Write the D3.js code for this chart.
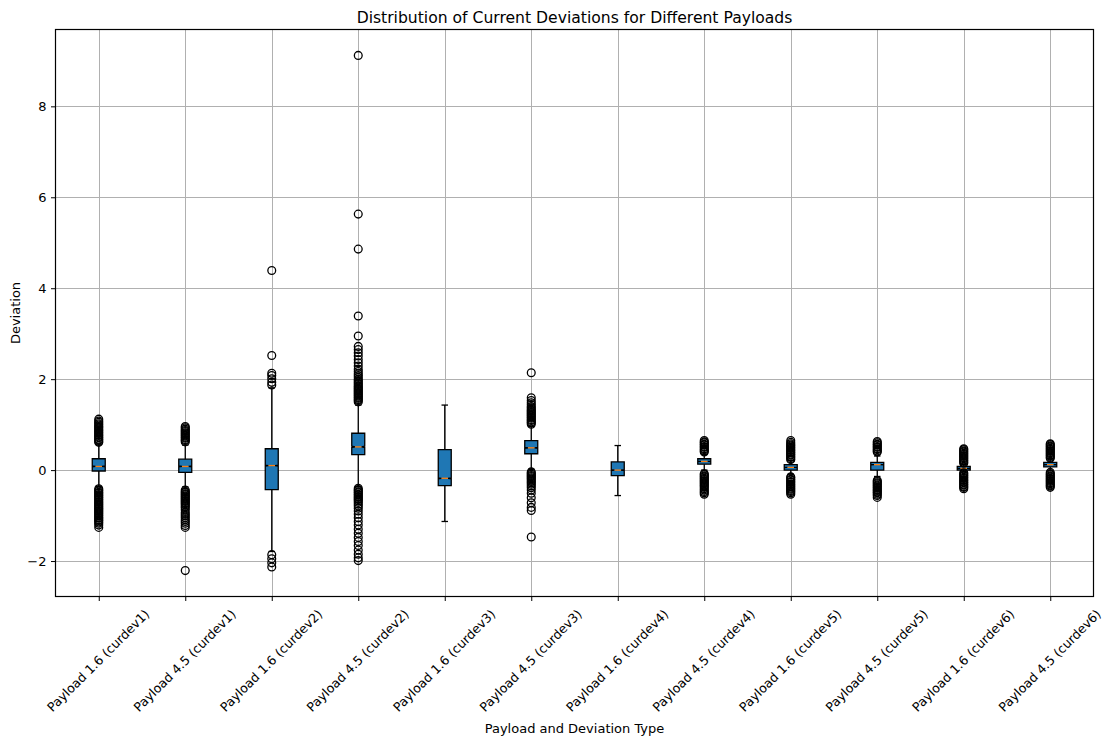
<!DOCTYPE html>
<html>
<head>
<meta charset="utf-8">
<script src="https://cdn.jsdelivr.net/npm/d3@7"></script>
<style>
  body { margin: 0; background: #fff; }
  svg { display: block; }
  text { font-family: "DejaVu Sans", sans-serif; fill: #000; }
</style>
</head>
<body>
<svg id="chart" width="1104" height="742"></svg>
<script>
// Box statistics per payload / deviation channel
const categories = [
  "Payload 1.6 (curdev1)", "Payload 4.5 (curdev1)",
  "Payload 1.6 (curdev2)", "Payload 4.5 (curdev2)",
  "Payload 1.6 (curdev3)", "Payload 4.5 (curdev3)",
  "Payload 1.6 (curdev4)", "Payload 4.5 (curdev4)",
  "Payload 1.6 (curdev5)", "Payload 4.5 (curdev5)",
  "Payload 1.6 (curdev6)", "Payload 4.5 (curdev6)"
];
const q1Values      = [-0.02, -0.05, -0.43, 0.34, -0.34, 0.36, -0.12, 0.13, 0.00, 0.00, 0.00, 0.07];
const medianValues  = [ 0.08,  0.08,  0.10, 0.51, -0.18, 0.49,  0.00, 0.19, 0.06, 0.12, 0.04, 0.12];
const q3Values      = [ 0.25,  0.24,  0.47, 0.81,  0.45, 0.65,  0.18, 0.25, 0.12, 0.17, 0.08, 0.17];
const whiskerLow    = [-0.36, -0.37, -1.79, -0.36, -1.13, 0.02, -0.56, 0.00, -0.09, -0.14, -0.04, 0.00];
const whiskerHigh   = [ 0.57,  0.55,  1.81, 1.43,  1.43, 0.96,  0.54, 0.35, 0.21, 0.31, 0.13, 0.25];
const notchHalf     = [ 0.01,  0.01,  0.01, 0.015, 0.01, 0.01,  0.01, 0.005, 0.005, 0.005, 0.005, 0.005];

const fliers1 = [0.61, 0.63, 0.66, 0.68, 0.71, 0.73, 0.76, 0.78, 0.81, 0.83, 0.86, 0.88, 0.91, 0.94, 0.96, 0.99, 1.02, 1.05, 1.08, 1.12,
  -0.41, -0.44, -0.46, -0.49, -0.51, -0.54, -0.56, -0.59, -0.61, -0.64, -0.66, -0.69, -0.71, -0.74, -0.76, -0.79, -0.81,
  -0.84, -0.86, -0.89, -0.91, -0.94, -0.96, -0.99, -1.01, -1.04, -1.06, -1.09, -1.11, -1.14, -1.17, -1.21, -1.26];
const fliers2 = [0.62, 0.65, 0.67, 0.70, 0.72, 0.75, 0.77, 0.80, 0.82, 0.85, 0.87, 0.90, 0.93, 0.96,
  -0.44, -0.47, -0.49, -0.52, -0.54, -0.57, -0.59, -0.62, -0.64, -0.67, -0.69, -0.72, -0.74, -0.77, -0.80, -0.83,
  -0.88, -0.93, -0.97, -1.01, -1.05, -1.09, -1.13, -1.17, -1.22, -1.26, -2.21];
const fliers3 = [1.87, 1.93, 2.01, 2.08, 2.13, 2.52, 4.39, -1.86, -1.95, -2.04, -2.13];
const fliers4 = [1.50, 1.53, 1.55, 1.58, 1.60, 1.63, 1.65, 1.68, 1.70, 1.73, 1.75, 1.78, 1.80, 1.83, 1.85, 1.88, 1.91, 1.94,
  1.97, 2.00, 2.04, 2.08, 2.12, 2.17, 2.22, 2.29, 2.36, 2.43, 2.51, 2.58, 2.65, 2.72, 2.95, 3.39, 4.86, 5.63, 9.12,
  -0.40, -0.43, -0.45, -0.48, -0.50, -0.53, -0.55, -0.58, -0.60, -0.63, -0.65, -0.68, -0.71, -0.75, -0.79, -0.84,
  -0.90, -0.97, -1.05, -1.13, -1.21, -1.30, -1.39, -1.48, -1.57, -1.66, -1.76, -1.85, -1.93, -1.99];
const fliers5 = [];
const fliers6 = [1.01, 1.04, 1.06, 1.09, 1.11, 1.14, 1.16, 1.19, 1.21, 1.24, 1.26, 1.29, 1.31, 1.34, 1.37, 1.40, 1.44, 1.48, 1.53, 1.59, 2.14,
  -0.04, -0.07, -0.09, -0.12, -0.14, -0.17, -0.19, -0.22, -0.25, -0.28, -0.31, -0.35, -0.39, -0.44,
  -0.51, -0.61, -0.72, -0.82, -0.89, -1.47];
const fliers7 = [];
const fliers8 = [0.40, 0.42, 0.45, 0.47, 0.50, 0.52, 0.55, 0.57, 0.60, 0.62, 0.65,
  -0.08, -0.10, -0.13, -0.15, -0.18, -0.20, -0.23, -0.25, -0.28, -0.30, -0.33, -0.35, -0.38, -0.41, -0.44, -0.47, -0.50, -0.53];
const fliers9 = [0.23, 0.25, 0.28, 0.30, 0.33, 0.35, 0.38, 0.40, 0.43, 0.45, 0.48, 0.50, 0.53, 0.55, 0.58, 0.61, 0.65,
  -0.15, -0.17, -0.20, -0.22, -0.25, -0.27, -0.30, -0.32, -0.35, -0.37, -0.40, -0.42, -0.45, -0.47, -0.50, -0.53];
const fliers10 = [0.40, 0.42, 0.45, 0.47, 0.50, 0.52, 0.55, 0.57, 0.60, 0.63,
  -0.23, -0.25, -0.28, -0.30, -0.33, -0.35, -0.38, -0.40, -0.43, -0.45, -0.48, -0.50, -0.53, -0.56, -0.60];
const fliers11 = [0.15, 0.17, 0.20, 0.22, 0.25, 0.27, 0.30, 0.32, 0.35, 0.37, 0.40, 0.42, 0.45, 0.47,
  -0.06, -0.08, -0.11, -0.13, -0.16, -0.18, -0.21, -0.23, -0.26, -0.28, -0.31, -0.33, -0.36, -0.38, -0.41];
const fliers12 = [0.26, 0.28, 0.31, 0.33, 0.36, 0.38, 0.41, 0.43, 0.46, 0.48, 0.51, 0.53, 0.56, 0.58,
  -0.05, -0.08, -0.10, -0.13, -0.15, -0.18, -0.20, -0.23, -0.25, -0.28, -0.30, -0.33, -0.35, -0.38];
const flierSets = [fliers1, fliers2, fliers3, fliers4, fliers5, fliers6, fliers7, fliers8, fliers9, fliers10, fliers11, fliers12];

const yTickValues = [-2, 0, 2, 4, 6, 8];

const titleText = "Distribution of Current Deviations for Different Payloads";
const xLabelText = "Payload and Deviation Type";
const yLabelText = "Deviation";

// Layout
const plot = { left: 55.5, right: 1093.5, top: 29.5, bottom: 596.5 };
const boxWidth = 0.15;   // in position units
const fillColor = "#1f77b4";
const medianColor = "#ff7f0e";
const lineW = 1.3;

const svg = d3.select("#chart");

const positions = categories.map((_, i) => i + 1);
const x = d3.scaleLinear().domain([0.5, 12.5]).range([plot.left, plot.right]);
const y = d3.scaleLinear().domain([-2.78, 9.69]).range([plot.bottom, plot.top]);

// Grid
const grid = svg.append("g").attr("stroke", "#b0b0b0").attr("stroke-width", 1);
grid.selectAll("line.gx").data(positions).join("line")
  .attr("x1", d => Math.round(x(d)) + 0.5).attr("x2", d => Math.round(x(d)) + 0.5)
  .attr("y1", plot.top).attr("y2", plot.bottom);
grid.selectAll("line.gy").data(yTickValues).join("line")
  .attr("y1", d => Math.round(y(d)) + 0.5).attr("y2", d => Math.round(y(d)) + 0.5)
  .attr("x1", plot.left).attr("x2", plot.right);

// Boxes
const stats = positions.map((p, i) => ({
  pos: p, q1: q1Values[i], med: medianValues[i], q3: q3Values[i],
  lo: whiskerLow[i], hi: whiskerHigh[i], notch: notchHalf[i], fliers: flierSets[i]
}));

const boxes = svg.append("g");
stats.forEach(s => {
  const left = x(s.pos - boxWidth / 2), right = x(s.pos + boxWidth / 2);
  const capL = x(s.pos - boxWidth / 4), capR = x(s.pos + boxWidth / 4);
  const nLo = y(s.med - s.notch), nHi = y(s.med + s.notch);
  const pts = [
    [left, y(s.q1)], [right, y(s.q1)], [right, nLo], [capR, y(s.med)], [right, nHi],
    [right, y(s.q3)], [left, y(s.q3)], [left, nHi], [capL, y(s.med)], [left, nLo]
  ];
  boxes.append("path")
    .attr("d", d3.line()(pts) + "Z")
    .attr("fill", fillColor).attr("stroke", "#000").attr("stroke-width", lineW)
    .attr("stroke-linejoin", "miter");

  const cx = x(s.pos);
  const capHalf = (x(s.pos + boxWidth / 4) - x(s.pos));
  // whiskers
  boxes.append("line").attr("x1", cx).attr("x2", cx).attr("y1", y(s.q1)).attr("y2", y(s.lo))
    .attr("stroke", "#000").attr("stroke-width", lineW);
  boxes.append("line").attr("x1", cx).attr("x2", cx).attr("y1", y(s.q3)).attr("y2", y(s.hi))
    .attr("stroke", "#000").attr("stroke-width", lineW);
  // caps
  [s.lo, s.hi].forEach(v => {
    boxes.append("line").attr("x1", cx - capHalf).attr("x2", cx + capHalf)
      .attr("y1", y(v)).attr("y2", y(v))
      .attr("stroke", "#000").attr("stroke-width", lineW);
  });
  // median
  boxes.append("line").attr("x1", capL).attr("x2", capR)
    .attr("y1", y(s.med)).attr("y2", y(s.med))
    .attr("stroke", medianColor).attr("stroke-width", lineW);
});

// Outliers
const flierG = svg.append("g");
stats.forEach(s => {
  flierG.selectAll(null).data(s.fliers).join("circle")
    .attr("cx", x(s.pos)).attr("cy", d => y(d)).attr("r", 3.9)
    .attr("fill", "none").attr("stroke", "#000").attr("stroke-width", lineW);
});

// Frame
svg.append("rect")
  .attr("x", plot.left).attr("y", plot.top)
  .attr("width", plot.right - plot.left).attr("height", plot.bottom - plot.top)
  .attr("fill", "none").attr("stroke", "#000").attr("stroke-width", 1.2);

// Y axis
const yAxis = svg.append("g").attr("transform", `translate(${plot.left},0)`)
  .call(d3.axisLeft(y).tickValues(yTickValues).tickSize(4.5).tickPadding(4.5).tickFormat(d3.format("d")));
yAxis.select(".domain").remove();
yAxis.selectAll("text").style("font-size", "13px").style("font-family", "DejaVu Sans, sans-serif");
yAxis.selectAll("line").attr("stroke-width", 1);

// X axis
const xAxis = svg.append("g").attr("transform", `translate(0,${plot.bottom})`)
  .call(d3.axisBottom(x).tickValues(positions).tickSize(4.5).tickFormat(d => categories[d - 1]));
xAxis.select(".domain").remove();
xAxis.selectAll("line").attr("stroke-width", 1);
xAxis.selectAll("text")
  .style("font-size", "12.6px").style("font-family", "DejaVu Sans, sans-serif")
  .attr("y", 0).attr("dy", "0.35em")
  .attr("text-anchor", "middle")
  .each(function () {
    const L = this.getComputedTextLength();
    const ext = (L + 15) * Math.SQRT1_2;
    d3.select(this).attr("transform", `translate(-1,${10 + ext / 2}) rotate(-45)`);
  });

// Titles
svg.append("text").attr("x", (plot.left + plot.right) / 2).attr("y", 23)
  .attr("text-anchor", "middle").style("font-size", "15.6px").text(titleText);
svg.append("text").attr("x", (plot.left + plot.right) / 2).attr("y", 733)
  .attr("text-anchor", "middle").style("font-size", "13px").text(xLabelText);
svg.append("text").attr("transform", `translate(19.5,${(plot.top + plot.bottom) / 2}) rotate(-90)`)
  .attr("text-anchor", "middle").style("font-size", "13px").text(yLabelText);
</script>
</body>
</html>
